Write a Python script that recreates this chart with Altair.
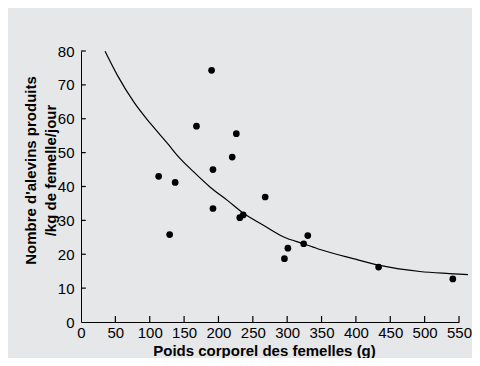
import altair as alt
import pandas as pd

# Scatter points: body weight (g) vs fry produced per kg female per day
pt_x = [190, 168, 226, 220, 192, 113, 137, 268, 192, 231, 236, 129, 330, 324, 301, 296, 433, 541]
pt_y = [74.3, 57.8, 55.6, 48.7, 45.0, 43.0, 41.2, 36.9, 33.5, 30.8, 31.6, 25.8, 25.5, 23.1, 21.8, 18.7, 16.2, 12.7]

# Fitted curve
cv_x = [35, 53, 77, 101, 128, 140, 164, 188, 213, 237, 266, 295, 324, 348, 396, 435, 493, 536, 563]
cv_y = [79.9, 72.8, 64.9, 58.6, 52.2, 49.2, 44.3, 39.8, 35.9, 32.0, 28.5, 25.1, 23.1, 21.4, 18.7, 16.7, 14.9, 14.3, 14.0]

x_ticks = [0, 50, 100, 150, 200, 250, 300, 350, 400, 450, 500, 550]
y_ticks = [0, 10, 20, 30, 40, 50, 60, 70, 80]

W, H = 378, 271
FONT = "Liberation Sans"

pts = pd.DataFrame({"x": pt_x, "y": pt_y})
curve = pd.DataFrame({"x": cv_x, "y": cv_y})
xt = pd.DataFrame({"x": x_ticks[1:]})
yt = pd.DataFrame({"y": y_ticks[1:]})

xscale = alt.Scale(domain=[0, 550], nice=False, zero=True)
yscale = alt.Scale(domain=[0, 80], nice=False)

xaxis = alt.Axis(values=x_ticks, grid=False, ticks=False, domainColor="black", domainWidth=1,
                 labelFont=FONT, labelFontSize=15, labelColor="black", labelPadding=3,
                 labelFlush=False, labelOverlap=False,
                 title="Poids corporel des femelles (g)", titleFont=FONT, titleFontSize=15,
                 titleFontWeight="bold", titleColor="black", titleX=183, titleY=33,
                 titleBaseline="alphabetic", titleAlign="center")
yaxis = alt.Axis(values=y_ticks, grid=False, ticks=False, domainColor="black", domainWidth=1,
                 labelFont=FONT, labelFontSize=15, labelColor="black", labelPadding=7,
                 labelFlush=False, labelOverlap=False,
                 title=["Nombre d'alevins produits", "/kg de femelle/jour"], titleFont=FONT,
                 titleFontSize=15, titleFontWeight="bold", titleColor="black",
                 titleAngle=270, titleBaseline="top", titleAlign="center",
                 titleX=-58, titleY=119, titleLineHeight=20)

X = alt.X("x:Q", scale=xscale, axis=xaxis)
Y = alt.Y("y:Q", scale=yscale, axis=yaxis)

line = alt.Chart(curve).mark_line(color="black", strokeWidth=1.2, interpolate="monotone", clip=False).encode(
    x=X, y=Y,
)
points = alt.Chart(pts).mark_circle(color="black", opacity=1, size=45).encode(
    x=X, y=Y,
)
xticks = alt.Chart(xt).mark_rule(color="black", strokeWidth=1.2).encode(
    x=X,
    y=alt.YDatum(0, type="quantitative", scale=yscale, axis=yaxis),
    y2=alt.Y2Datum(1.8),
)
yticks = alt.Chart(yt).mark_rule(color="black", strokeWidth=1.2).encode(
    y=Y,
    x=alt.XDatum(0, type="quantitative", scale=xscale, axis=xaxis),
    x2=alt.X2Datum(7),
)

chart = alt.layer(line, points, xticks, yticks).properties(
    width=W, height=H,
    autosize=alt.AutoSizeParams(type="none"),
    padding={"left": 73, "top": 43, "right": 13, "bottom": 36},
).configure(background="#e6e7e9").configure_view(strokeWidth=0)

chart.save("out.html", embed_options={"renderer": "svg", "actions": False})
